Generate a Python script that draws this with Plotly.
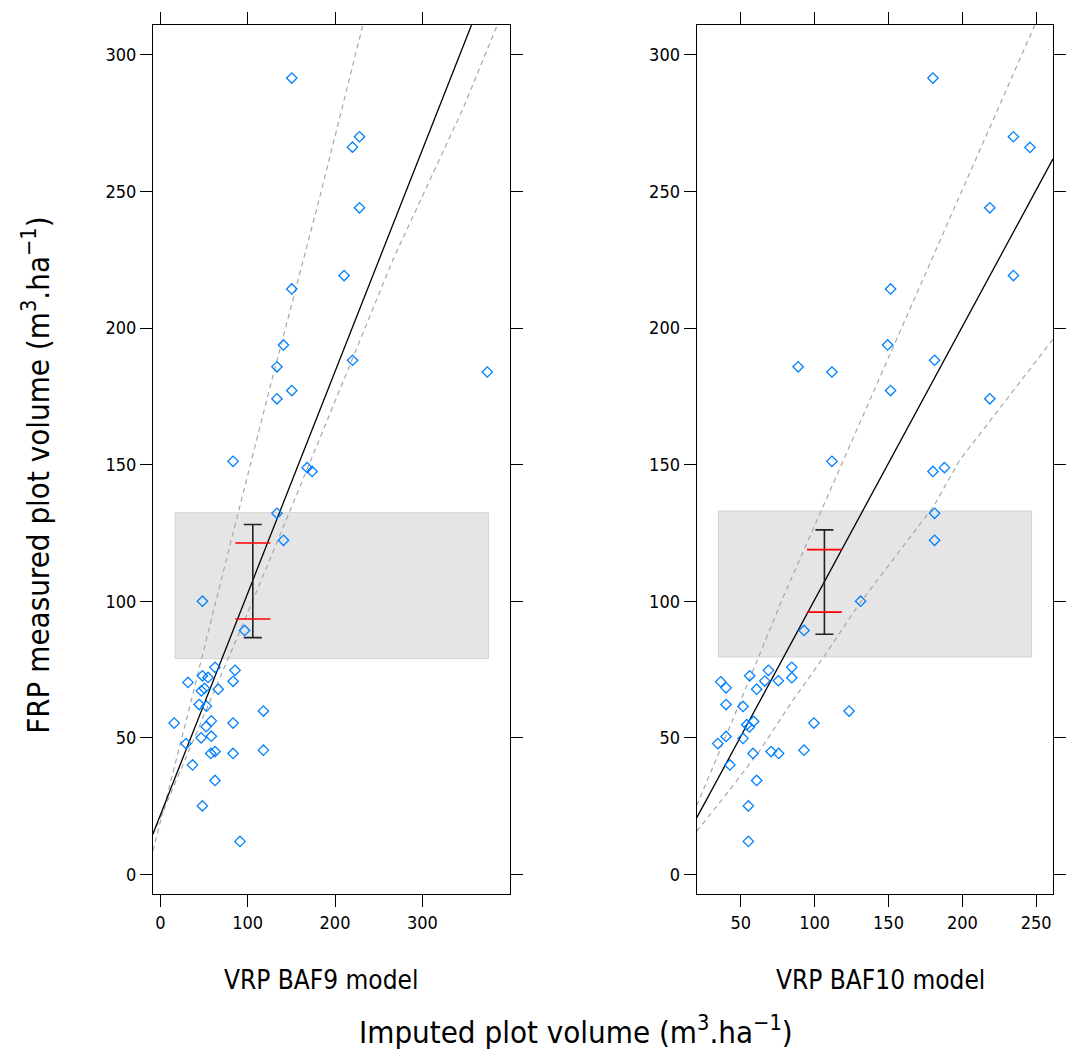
import plotly.graph_objects as go

# ---------------- data ----------------
# Left panel: VRP BAF9 model (imputed) vs FRP measured
baf9_x = [150.5, 228, 220, 228, 210.4, 150.5, 141, 133.5, 150.5, 133.5, 220.1, 374.4,
          83.3, 168.1, 173.8, 133.5, 141, 48.2, 96.5, 62.6, 85.5, 48.2, 54.6, 31.7,
          83.3, 50.5, 47, 66.3, 44.5, 52.8, 118, 15.8, 58.4, 52.4, 83.3, 29.4,
          46.7, 58.4, 57.7, 62.6, 83.3, 118, 36.9, 62.6, 48.2, 91.2]
baf9_y = [291.5, 270, 266.2, 244, 219.2, 214.3, 193.8, 185.8, 177.1, 174.1, 188.2, 183.9,
          151.2, 148.9, 147.5, 132.2, 122.3, 100, 89.3, 75.8, 74.7, 72.7, 72.1, 70.3,
          70.7, 68.1, 67.2, 67.8, 62.2, 61.6, 59.8, 55.4, 56.2, 54.1, 55.4, 47.9,
          50, 50.6, 44.3, 45.0, 44.3, 45.5, 40.1, 34.4, 25.1, 12.1]

# Right panel: VRP BAF10 model
baf10_x = [180.1, 234.6, 245.8, 218.6, 234.6, 151.4, 149.4, 88.8, 111.7, 181.2, 151.4, 218.6,
           111.7, 187.9, 180.1, 181.2, 181.2, 131.1, 92.8, 84.5, 68.7, 84.5, 56, 66.2,
           75.4, 36.4, 40, 60.7, 40, 51.5, 123.3, 54, 55.8, 58.7, 99.5, 40,
           51.5, 34.4, 58.2, 70.5, 75.6, 92.8, 42.6, 60.7, 55.1, 55.1]
baf10_y = [291.5, 270, 266.1, 244, 219.2, 214.3, 193.8, 185.8, 183.9, 188.2, 177.1, 174.1,
           151.2, 148.9, 147.5, 132.2, 122.3, 100, 89.3, 75.8, 74.7, 72.0, 72.7, 70.8,
           70.9, 70.5, 68.3, 67.8, 62.2, 61.5, 59.8, 54.8, 54.0, 56.0, 55.4, 50.5,
           49.8, 47.9, 44.3, 45.0, 44.3, 45.5, 40.1, 34.4, 25.1, 12.1]

# fitted line and dashed band lines
fit9_x = [-8.4, 356.3]
fit9_y = [14.9, 310.9]
up9_x = [-8.4, 29.4, 69, 123.6, 184, 232]
up9_y = [8.7, 56, 106.9, 175.9, 249.7, 311]
lo9_x = [-8.4, 106.7, 180.2, 267, 346.2, 386]
lo9_y = [14.5, 100.8, 157.7, 225.5, 280, 311]

fit10_x = [20.1, 261.4]
fit10_y = [20.7, 261.9]
up10_x = [20.1, 46.9, 78.1, 127, 180.5, 248.5, 250]
up10_y = [25.2, 59.7, 100.8, 161, 226.8, 310.3, 312]
lo10_x = [20.1, 40.2, 62.5, 84.7, 107, 129.3, 151.6, 180.5, 198.3, 229.5, 261.4]
lo10_y = [15.8, 29.4, 45.1, 63.3, 80.3, 98.4, 114.2, 134.7, 151.7, 173.5, 195.9]

# grey boxes (x0, x1, y0, y1)
box9 = [17, 375.6, 79, 132.4]
box10 = [34.8, 246.9, 79.6, 133]

# error bar summaries: centre x, centre y, half range, red line levels, red half width
err9 = dict(x=105.9, y=107.4, half=20.7, red=[121.3, 93.5], red_half=20)
err10 = dict(x=106.6, y=107.0, half=19.1, red=[118.9, 96.0], red_half=11.8)

x9_ticks = [0, 100, 200, 300]
x10_ticks = [50, 100, 150, 200, 250]
y_ticks = [0, 50, 100, 150, 200, 250, 300]

x9_range = [-8.4, 400]
x10_range = [20.1, 261.4]
y_range = [-7.15, 310.9]

# ---------------- styles ----------------
FONT = "DejaVu Sans Condensed, Liberation Sans, sans-serif"
PT_COLOR = "#0080ff"
DASH_COLOR = "#a8a8a8"

fig = go.Figure()


def add_panel(xs, ys, fx, fy, ux, uy, lx, ly, box, err, xa, ya):
    fig.add_shape(type="rect", xref=xa, yref=ya, x0=box[0], x1=box[1], y0=box[2], y1=box[3],
                  fillcolor="#e5e5e5", line=dict(color="#d2d2d2", width=1), layer="below")
    fig.add_trace(go.Scatter(x=ux, y=uy, mode="lines", xaxis=xa, yaxis=ya,
                             line=dict(color=DASH_COLOR, width=1.2, dash="5px,4px"),
                             hoverinfo="skip"))
    fig.add_trace(go.Scatter(x=lx, y=ly, mode="lines", xaxis=xa, yaxis=ya,
                             line=dict(color=DASH_COLOR, width=1.2, dash="5px,4px"),
                             hoverinfo="skip"))
    fig.add_trace(go.Scatter(x=fx, y=fy, mode="lines", xaxis=xa, yaxis=ya,
                             line=dict(color="black", width=1.3)))
    fig.add_trace(go.Scatter(x=xs, y=ys, mode="markers", xaxis=xa, yaxis=ya,
                             marker=dict(symbol="diamond-open", size=8,
                                         color=PT_COLOR, line=dict(width=1.3, color=PT_COLOR))))
    # black vertical error bar
    fig.add_trace(go.Scatter(x=[err["x"]], y=[err["y"]], mode="markers", xaxis=xa, yaxis=ya,
                             marker=dict(size=1, color="rgba(0,0,0,0)"),
                             error_y=dict(type="data", array=[err["half"]], symmetric=True,
                                          color="#222222", thickness=1.6, width=9)))
    # red horizontal lines
    fig.add_trace(go.Scatter(x=[err["x"]] * len(err["red"]), y=err["red"], mode="markers",
                             xaxis=xa, yaxis=ya, marker=dict(size=1, color="rgba(0,0,0,0)"),
                             error_x=dict(type="data", array=[err["red_half"]] * len(err["red"]),
                                          symmetric=True, color="#ff0000", thickness=1.6, width=0)))


add_panel(baf9_x, baf9_y, fit9_x, fit9_y, up9_x, up9_y, lo9_x, lo9_y, box9, err9, "x", "y")
add_panel(baf10_x, baf10_y, fit10_x, fit10_y, up10_x, up10_y, lo10_x, lo10_y, box10, err10, "x2", "y2")

axis_common = dict(showline=True, linecolor="black", linewidth=1.2, mirror="ticks",
                   ticks="outside", ticklen=12, tickwidth=1.1, tickcolor="black",
                   showgrid=False, zeroline=False,
                   tickfont=dict(family=FONT, size=18, color="black"))

fig.update_layout(
    width=1078, height=1057,
    margin=dict(l=153, r=14, t=18, b=163),
    plot_bgcolor="white", paper_bgcolor="white",
    showlegend=False,
    xaxis=dict(domain=[0, 0.3963], range=x9_range, tickvals=x9_ticks, anchor="y", **axis_common),
    yaxis=dict(domain=[0, 1], range=y_range, tickvals=y_ticks, anchor="x", **axis_common),
    xaxis2=dict(domain=[0.6041, 1], range=x10_range, tickvals=x10_ticks, anchor="y2", **axis_common),
    yaxis2=dict(domain=[0, 1], range=y_range, tickvals=y_ticks, anchor="x2", **axis_common),
)

fig.add_annotation(text="VRP BAF9 model", xref="paper", yref="paper", x=0.1866, y=0,
                   yshift=-86, xanchor="center", yanchor="middle", showarrow=False,
                   font=dict(family=FONT, size=26, color="black"))
fig.add_annotation(text="VRP BAF10 model", xref="paper", yref="paper", x=0.808, y=0,
                   yshift=-86, xanchor="center", yanchor="middle", showarrow=False,
                   font=dict(family=FONT, size=26, color="black"))
fig.add_annotation(text="Imputed plot volume (m<sup>3</sup>.ha<sup>\u22121</sup>)",
                   xref="paper", yref="paper", x=0.4705, y=0, yshift=-136,
                   xanchor="center", yanchor="middle", showarrow=False,
                   font=dict(family=FONT, size=31, color="black"))
fig.add_annotation(text="FRP measured plot volume (m<sup>3</sup>.ha<sup>\u22121</sup>)",
                   xref="paper", yref="paper", x=-0.1295, y=0.4817, textangle=-90,
                   xanchor="center", yanchor="middle", showarrow=False,
                   font=dict(family=FONT, size=31, color="black"))

fig.write_html("out.html")
